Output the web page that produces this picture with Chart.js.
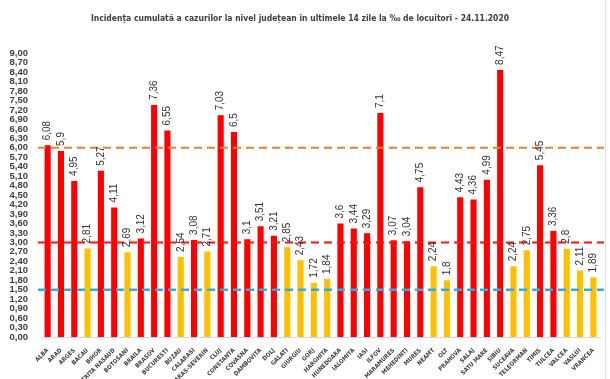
<!DOCTYPE html>
<html>
<head>
<meta charset="utf-8">
<script src="https://cdn.jsdelivr.net/npm/chart.js@4"></script>
<style>
  html, body { margin: 0; padding: 0; background: #fff; }
  #wrap { width: 605px; height: 379px; border-right: 1px solid #e2e2e2; }
</style>
</head>
<body>
<div id="wrap"><canvas id="incidenta" width="605" height="379"></canvas></div>
<script>
const categories = ["ALBA", "ARAD", "ARGES", "BACAU", "BIHOR", "BISTRITA NASAUD", "BOTOSANI", "BRAILA",
  "BRASOV", "BUCURESTI", "BUZAU", "CALARASI", "CARAS-SEVERIN", "CLUJ", "CONSTANTA", "COVASNA",
  "DAMBOVITA", "DOLJ", "GALATI", "GIURGIU", "GORJ", "HARGHITA", "HUNEDOARA", "IALOMITA", "IASI",
  "ILFOV", "MARAMURES", "MEHEDINTI", "MURES", "NEAMT", "OLT", "PRAHOVA", "SALAJ", "SATU MARE",
  "SIBIU", "SUCEAVA", "TELEORMAN", "TIMIS", "TULCEA", "VALCEA", "VASLUI", "VRANCEA"];

const values = [6.08, 5.9, 4.95, 2.81, 5.27, 4.11, 2.69, 3.12,
  7.36, 6.55, 2.54, 3.08, 2.71, 7.03, 6.5, 3.1,
  3.51, 3.21, 2.85, 2.43, 1.72, 1.84, 3.6, 3.44, 3.29,
  7.1, 3.07, 3.04, 4.75, 2.24, 1.8, 4.43, 4.36, 4.99,
  8.47, 2.24, 2.75, 5.45, 3.36, 2.8, 2.11, 1.89];

// praguri: 6‰, 3‰, 1,5‰
const thresholds = [6, 3, 1.5];

const yMin = 0, yMax = 9, yStep = 0.3;

const fmt = v => Number(v).toFixed(2).replace(".", ",");
const fmtShort = v => String(v).replace(".", ",");

const narrow = "'Liberation Sans Narrow', 'DejaVu Sans Condensed', 'Liberation Sans', sans-serif";
const regular = "'Liberation Sans', Arial, sans-serif";

const lineStyles = [
  { color: "#ED7D31", width: 2, dash: [8, 5] },
  { color: "#FF1010", width: 2, dash: [8, 5] },
  { color: "#2AAEE6", width: 2.5, dash: [8, 5] }
];

const thresholdLines = {
  id: "thresholdLines",
  afterDatasetsDraw(chart) {
    const { ctx, chartArea, scales } = chart;
    ctx.save();
    thresholds.forEach((t, i) => {
      const s = lineStyles[i];
      const y = scales.y.getPixelForValue(t);
      ctx.beginPath();
      ctx.setLineDash(s.dash);
      ctx.lineWidth = s.width;
      ctx.strokeStyle = s.color;
      ctx.moveTo(chartArea.left - 3, y);
      ctx.lineTo(chartArea.right + 4, y);
      ctx.stroke();
    });
    ctx.restore();
  }
};

const valueLabels = {
  id: "valueLabels",
  afterDraw(chart) {
    const { ctx } = chart;
    const meta = chart.getDatasetMeta(0);
    ctx.save();
    ctx.fillStyle = "#333";
    ctx.font = "10px " + regular;
    ctx.textAlign = "left";
    ctx.textBaseline = "middle";
    meta.data.forEach((bar, i) => {
      ctx.save();
      ctx.translate(bar.x, bar.y - 5);
      ctx.rotate(-Math.PI / 2);
      ctx.fillText(fmtShort(values[i]), 0, 0);
      ctx.restore();
    });
    ctx.restore();
  }
};

new Chart(document.getElementById("incidenta"), {
  type: "bar",
  data: {
    labels: categories,
    datasets: [{
      data: values,
      backgroundColor: values.map(v => v > 3 ? "#FF0000" : "#FFC000"),
      barPercentage: 0.46,
      categoryPercentage: 1
    }]
  },
  options: {
    responsive: false,
    animation: false,
    layout: { padding: { left: 0, right: 5, top: 0, bottom: 0 } },
    scales: {
      x: {
        grid: { display: false },
        border: { display: true, color: "#d9d9d9" },
        ticks: {
          minRotation: 45, maxRotation: 45, autoSkip: false, padding: 2,
          color: "#404040",
          font: { family: narrow, size: 6, weight: "bold" }
        },
        afterFit(scale) { scale.height = 42; }
      },
      y: {
        min: yMin, max: yMax,
        grid: { display: false },
        border: { display: false },
        ticks: {
          stepSize: yStep, autoSkip: false, padding: 5,
          color: "#404040",
          font: { family: regular, size: 9.5, weight: "bold" },
          callback: v => fmt(v)
        },
        afterFit(scale) { scale.width = 41; }
      }
    },
    plugins: {
      legend: { display: false },
      tooltip: { enabled: false },
      title: {
        display: true,
        text: "Incidența cumulată a cazurilor la nivel județean în ultimele 14 zile la ‰ de locuitori - 24.11.2020",
        color: "#404040",
        font: { family: narrow, size: 8.5, weight: "bold" },
        padding: { top: 14, bottom: 29 }
      }
    }
  },
  plugins: [thresholdLines, valueLabels]
});
</script>
</body>
</html>
